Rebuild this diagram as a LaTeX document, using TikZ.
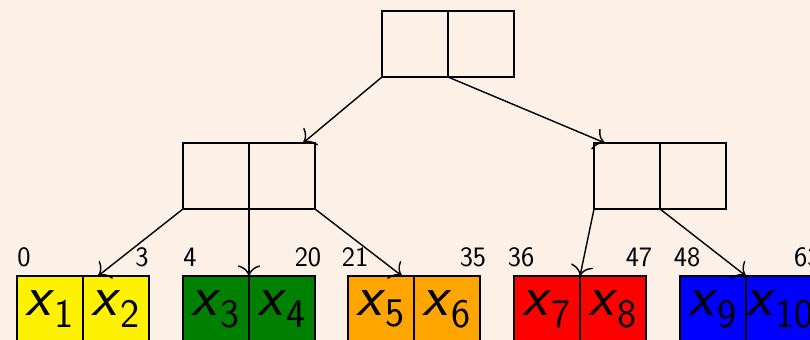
\documentclass[tikz,border=0pt]{standalone}
\usetikzlibrary{arrows.meta,positioning,calc}
\definecolor{slidebg}{RGB}{253,240,230}
\definecolor{leafgreen}{RGB}{0,128,0}
\definecolor{leaforange}{RGB}{255,165,0}

\begin{document}
\begin{tikzpicture}[x=0.02cm, y=0.02cm, >={To[scale=1.8]},
    cell/.style={draw, thick, minimum width=1.32cm, minimum height=1.32cm, inner sep=0pt, outer sep=0pt},
    idx/.style={font=\fontsize{16}{18}\sffamily, inner sep=0pt},
    leaftext/.style={font=\fontsize{33}{36}\sffamily}]
        \useasboundingbox (0,0) rectangle (810,340);
        \fill[slidebg] (0,0) rectangle (810,340);
        % inner nodes
        \node[cell] (r1) at (415,296) {};
        \node[cell, right=0pt of r1] (r2) {};
        \node[cell] (ml1) at (216,164) {};
        \node[cell, right=0pt of ml1] (ml2) {};
        \node[cell] (mr1) at (627,164) {};
        \node[cell, right=0pt of mr1] (mr2) {};
        % leaves with their index ranges
        \foreach \i/\xx/\col/\lo/\hi in {1/50/yellow/0/3, 3/216/leafgreen/4/20,
            5/381/leaforange/21/35, 7/547/red/36/47, 9/713/blue/48/63} {
          \pgfmathtruncatemacro\j{\i+1}
          \node[cell, fill=\col, leaftext] (l\i) at (\xx,31) {\textsl{x}\textsubscript{\i}};
          \node[cell, fill=\col, leaftext, right=0pt of l\i] (l\j) {\textsl{x}\textsubscript{\j}};
          \node[idx] (lo\i) at ($(l\i.north west)+(7,19)$) {\lo};
          \node[idx] (hi\i) at ($(l\j.north east)+(-7,19)$) {\hi};
        }
        % pointers
        \draw[->, thick] (r1.south west) -- ($(ml2.north east)+(-12,0)$);
        \draw[->, thick] (r1.south east) -- ($(mr1.north west)+(11,0)$);
        \draw[->, thick] (ml1.south west) -- ($(l2.north west)+(15,0)$);
        \draw[->, thick] (ml1.south east) -- (l3.north east);
        \draw[->, thick] (ml2.south east) -- ($(l5.north east)+(-12,0)$);
        \draw[->, thick] (mr1.south west) -- (l7.north east);
        \draw[->, thick] (mr1.south east) -- (l9.north east);
      \end{tikzpicture}
\end{document}
